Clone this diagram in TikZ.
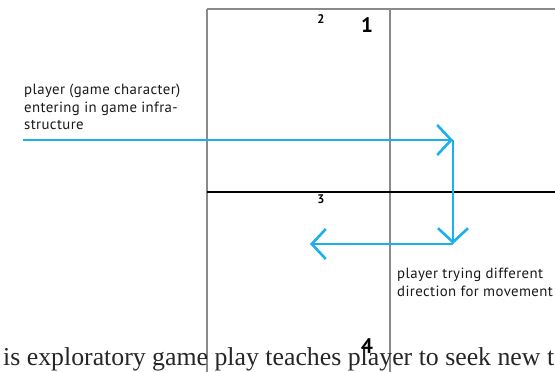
\documentclass[tikz,border=0pt]{standalone}
\usepackage{fontspec}
\setmainfont{Liberation Serif}
\newfontfamily\labelfont[LetterSpace=2.6]{PT Sans}
\newfontfamily\numfont{PT Sans}
\usetikzlibrary{arrows.meta}
\definecolor{cyanblue}{HTML}{1AB0EC}
\definecolor{gridgray}{HTML}{8A8A8A}
\tikzset{
  gridline/.style={draw=gridgray, line width=1.1pt},
  mainline/.style={draw=black, line width=1.2pt},
  flow/.style={draw=cyanblue, line width=2.6pt, -{Straight Barb[length=14pt,width=30pt,line width=2.6pt]}},
  lbl/.style={font=\labelfont\fontsize{14.8}{17.6}\selectfont, text=black!90, align=left, inner sep=0pt},
  smallnum/.style={font=\numfont\bfseries\fontsize{12.5}{12.5}\selectfont, inner sep=0pt},
  bignum/.style={font=\numfont\bfseries\fontsize{21}{21}\selectfont, inner sep=0pt},
}
\begin{document}
\begin{tikzpicture}[x=1pt,y=-1pt]
\useasboundingbox (0,0) rectangle (555,372);
% grid
\coordinate (tl) at (207,9);
\coordinate (tm) at (390,9);
\coordinate (tr) at (556,9);
\coordinate (ml) at (207,192);
\coordinate (mr) at (556,192);
\coordinate (bl) at (207,373);
\coordinate (bm) at (390,373);
\draw[gridline] (tl) -- (tr);
\draw[gridline] (tl) -- (bl);
\draw[gridline] (tm) -- (bm);
\draw[mainline] (ml) -- (mr);
% numbers
\node[smallnum] (n2) at (321,19) {2};
\node[bignum] (n1) at (367,25) {1};
\node[smallnum] (n3) at (321,199) {3};
% bottom text
\node[anchor=base west, inner sep=0pt, font=\fontsize{25.8}{25.8}\selectfont, text=black!85] (caption) at (3,365) {is exploratory game play teaches player to seek new t};
\node[bignum] (n4) at (367,346) {4};
% arrows
\coordinate (start) at (23,140);
\coordinate (turn1) at (453,140);
\coordinate (turn2) at (453,244);
\coordinate (endp) at (310,244);
\draw[flow] (start) -- (turn1);
\draw[flow] (turn1) -- (turn2);
\draw[flow] (turn2) -- (endp);
% labels
\node[lbl, anchor=north west] (enter) at (24,84) {player (game character)\\entering in game infra-\\structure};
\node[lbl, anchor=north west] (try) at (397,268) {player trying different\\direction for movement};
\end{tikzpicture}
\end{document}
